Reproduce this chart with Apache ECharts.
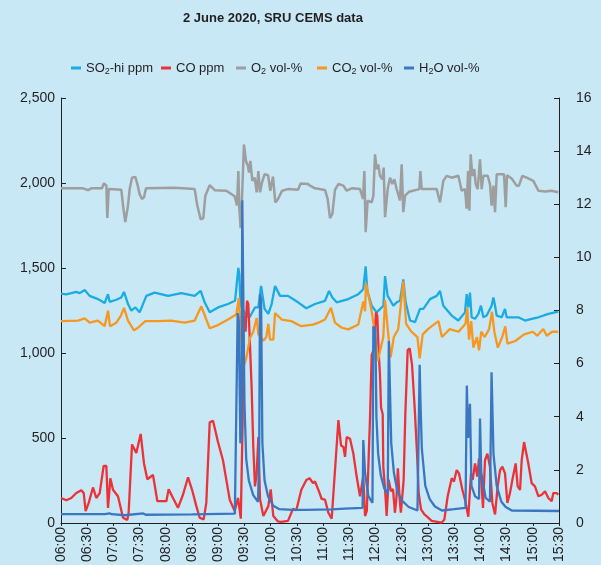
<!DOCTYPE html>
<html>
<head>
<meta charset="utf-8">
<script src="https://cdn.jsdelivr.net/npm/echarts@6/dist/echarts.min.js"></script>
<style>
html,body{margin:0;padding:0;background:#c8e8f6;}
#c{width:601px;height:565px;}
</style>
</head>
<body>
<div id="c"></div>
<script>
// x values are minutes after 06:00
const timeLabels = ['06:00','06:30','07:00','07:30','08:00','08:30','09:00','09:30','10:00','10:30','11:00','11:30','12:00','12:30','13:00','13:30','14:00','14:30','15:00','15:30'];

const so2 = [[0,1349],[6,1345],[11.8,1352],[17.5,1359],[21.4,1352],[27.1,1371],[32.8,1336],[42.3,1317],[50,1294],[53.8,1346],[55.7,1301],[63.3,1313],[69,1326],[72.1,1359],[76.7,1288],[80.5,1249],[85.1,1268],[90,1239],[97.7,1336],[107.2,1355],[122.5,1336],[137.7,1352],[153,1336],[159.9,1365],[164.4,1298],[170.2,1239],[179.7,1268],[191.1,1288],[199.2,1307],[203,1500],[204.2,1456],[205.5,1281],[210.8,1230],[215.9,1210],[222,1268],[225.9,1268],[229,1394],[233,1260],[237.3,1230],[241.1,1288],[245,1394],[250.7,1336],[259.8,1336],[271.3,1298],[280.8,1263],[290.7,1288],[302.2,1307],[306.8,1365],[310.6,1326],[315.5,1298],[328.9,1317],[340.3,1346],[346,1375],[348.7,1510],[350.6,1365],[355.6,1278],[361.3,1239],[369,1278],[370.9,1452],[373.9,1336],[380.4,1278],[384.2,1298],[388,1307],[391.8,1433],[394.5,1298],[399.5,1191],[405.2,1181],[410.9,1259],[414.7,1259],[422.4,1317],[430,1336],[433.8,1365],[437.6,1278],[447.2,1220],[454.8,1191],[462.4,1239],[464.3,1346],[466.2,1268],[468.1,1355],[470,1210],[473.9,1201],[477.7,1230],[480.7,1278],[483.4,1210],[487.2,1220],[492.9,1278],[494.9,1326],[496.8,1278],[498.7,1220],[504.4,1210],[508.2,1259],[510.1,1210],[515.8,1210],[523.5,1210],[531.1,1191],[538.7,1201],[546.4,1210],[557.8,1230],[569.2,1243]];

const co = [[0,147],[6.1,134],[11.8,147],[17.5,176],[23.3,192],[26,176],[28.2,70],[31.7,118],[36.6,209],[40.4,147],[44.3,176],[48.8,335],[51.9,335],[53.8,89],[56.5,263],[59.5,195],[65.2,157],[71,31],[75.9,18],[77.4,60],[81.3,462],[86.2,412],[91.2,524],[95,350],[98.8,257],[105.3,282],[110.3,128],[120.6,128],[123.2,199],[128.2,147],[133.9,89],[139.6,166],[145.4,269],[150,195],[154.9,99],[158.7,31],[163.3,21],[166.3,118],[170.2,592],[174,601],[179.7,476],[185.4,369],[193.1,137],[198.8,70],[202.6,147],[205.8,25],[207.9,603],[208.7,1143],[209.9,1220],[211.2,1125],[212.9,1307],[214.4,1288],[216.3,1046],[218.2,795],[220.1,447],[222,215],[224,293],[225.9,505],[227.8,139],[231.6,41],[237.3,99],[240,197],[243,41],[248,10],[252.2,6],[259.8,12],[265.5,83],[269.3,75],[275.1,195],[280.8,253],[284.6,263],[288.4,234],[290.7,244],[294.6,195],[298.4,141],[302.2,137],[306,60],[309.8,25],[311.7,31],[314.4,369],[317.5,605],[320.5,456],[323.2,447],[325.1,389],[327,505],[330.8,495],[334.6,408],[338.4,273],[342.2,157],[346,273],[348,41],[350,70],[351.8,331],[353.7,620],[355.6,988],[358.3,1027],[360.5,1239],[362,1220],[363.6,1007],[365.1,872],[366.3,679],[368.2,640],[368.9,331],[371.2,176],[372.7,41],[375,255],[377.7,186],[380,200],[382.2,60],[384,150],[385.6,321],[387.5,150],[389,60],[392.2,253],[394.1,640],[396.8,1017],[399.1,1027],[401.8,930],[404.8,679],[407.5,408],[409.4,176],[412.1,80],[415.9,50],[419,37],[424.3,12],[435.7,2],[438.8,21],[442.6,157],[447.2,263],[449.8,244],[452.9,311],[455.5,292],[459.4,195],[462.4,137],[466.2,37],[469.3,292],[471.2,253],[473.9,350],[476.5,273],[478.4,379],[480.7,273],[483,89],[485.3,369],[488,408],[491,331],[493.7,118],[496.8,50],[499.8,215],[502.5,311],[505.2,331],[508.2,292],[510.9,118],[513.9,176],[516.6,253],[520.4,350],[522.7,215],[525.4,195],[527.3,369],[530,476],[532.2,466],[534.9,350],[538.7,234],[542.5,215],[546.4,157],[550.2,166],[554,186],[557.8,147],[561.6,128],[563.5,176],[567.3,176],[569.2,166]];

const o2 = [[0,12.6],[25.2,12.6],[30.9,12.53],[34.7,12.6],[46.9,12.6],[49.2,12.79],[51.9,12.7],[53,11.48],[54.6,12.57],[69,12.55],[71.7,11.76],[73.6,11.33],[76.7,11.95],[78.6,12.57],[81.3,13.0],[85.1,13.03],[87.4,12.76],[90,12.38],[92.7,12.2],[95,12.26],[97.3,12.6],[130.1,12.62],[153,12.57],[156,11.95],[159.9,11.43],[162.9,11.48],[165.2,12.32],[170.2,12.72],[175.9,12.53],[189.2,12.51],[198.8,12.3],[201.4,11.95],[203,13.25],[204.1,11.83],[205.6,11.1],[207.2,12.26],[209.4,14.25],[211.7,13.63],[214,13.44],[215.2,13.19],[216.7,13.63],[219,12.88],[221.7,13.0],[224,12.45],[225.9,13.25],[227.8,12.45],[230.1,12.82],[233.1,13.13],[237,13.09],[239.6,12.51],[242.6,13.04],[245.3,12.07],[248.4,12.2],[253,12.51],[259.8,12.57],[271.3,12.55],[274.3,12.78],[282.7,12.76],[285,12.7],[290.7,12.6],[302.2,12.54],[305.2,12.2],[307.9,11.48],[310.6,11.64],[313.6,12.54],[317.5,12.76],[323.2,12.7],[327,12.51],[332.7,12.6],[342.2,12.57],[345.7,12.2],[347.2,13.25],[348.7,10.95],[351,12.14],[355.6,12.07],[357.5,12.32],[359.4,13.88],[361.3,13.32],[363.2,13.5],[365.1,13.07],[367.8,12.94],[369.3,13.38],[370.9,11.51],[373.9,12.57],[376.6,13.0],[379.2,12.76],[381.5,12.94],[384.2,12.57],[388,12.14],[389.9,13.5],[391.8,11.7],[393.8,12.32],[398.3,12.47],[410.2,12.57],[411.3,13.25],[412.8,12.57],[430,12.57],[433.8,12.07],[437.6,12.88],[441.4,13.07],[447.2,13.0],[454.8,13.07],[458.6,12.51],[462.4,12.57],[464.3,11.83],[465.9,13.25],[467.4,11.76],[468.9,13.88],[470.8,13.07],[473.1,13.32],[474.6,12.76],[476.9,12.57],[479.6,13.69],[481.5,12.57],[483.4,13.07],[488.4,13.07],[491,12.76],[492.9,11.95],[494.9,12.7],[496.8,11.7],[498.7,13.13],[507.1,13.13],[509,11.89],[510.5,13.09],[515.8,12.97],[521.5,12.7],[524.2,12.7],[528,13.07],[533,13.0],[540.6,12.88],[546.4,12.51],[554,12.48],[561.6,12.51],[569.2,12.45]];

const co2 = [[0,7.6],[19.5,7.62],[27.1,7.7],[32.8,7.54],[42.3,7.62],[50,7.41],[53.8,7.99],[56.1,7.41],[63.3,7.54],[68.3,7.79],[72.1,8.1],[76.7,7.62],[80.5,7.41],[83.5,7.25],[88.1,7.35],[96.5,7.6],[111,7.6],[126.3,7.62],[141.5,7.54],[153,7.62],[160.6,8.16],[166.3,7.66],[170.2,7.33],[179.7,7.45],[191.1,7.66],[200.7,7.85],[203.5,8.47],[205,7.6],[208.7,5.86],[212,6.2],[216.3,6.97],[220,7.2],[224,7.72],[225.9,7.1],[231.6,6.86],[235,7.0],[237.3,7.5],[239.2,6.9],[243,6.9],[245,7.9],[252.6,7.66],[263.6,7.6],[275,7.41],[288.4,7.47],[294.6,7.54],[302.2,7.66],[309,8.1],[313.6,7.54],[321.3,7.35],[328.9,7.29],[340.3,7.47],[346,8.34],[348,7.97],[349.1,9.03],[351.8,8.59],[355.6,7.97],[359.4,7.1],[362.5,6.1],[368.9,7.0],[370.9,8.4],[374,7.3],[377.2,6.23],[381,7.0],[386,7.3],[391.8,9.1],[395,7.5],[401,7.2],[408,7.0],[410.5,6.2],[414,7.1],[420,7.3],[432,7.6],[436,7.0],[445,7.3],[455,7.2],[463,7.5],[465,8.1],[467,6.9],[469.5,7.6],[472,6.6],[476,7.0],[478.5,6.5],[481,7.2],[485,7.0],[490,7.3],[493.3,7.95],[496,7.2],[500,6.6],[505,7.0],[508.5,7.4],[511,6.75],[520,6.85],[530,7.1],[540,7.2],[545,7.05],[552,7.3],[556,7.05],[562,7.2],[569,7.2]];

const h2o = [[0,0.33],[50,0.33],[55.7,0.36],[58,0.33],[73,0.29],[94,0.36],[97,0.31],[150,0.32],[199,0.35],[201.2,0.4],[202.2,7.9],[203.5,7.6],[205.3,3.0],[206.5,3.2],[207.5,12.15],[208.8,12.1],[210,4.5],[212,2.4],[215,1.6],[220,1.05],[225.5,0.8],[226.8,2.5],[227.8,8.6],[229,8.4],[230.5,3.0],[233,1.6],[237,1.0],[243,0.65],[250,0.52],[265,0.49],[280,0.49],[310,0.51],[325,0.54],[345.2,0.57],[346,3.12],[348,1.88],[351.8,1.01],[356.5,0.76],[357.5,7.4],[359.8,7.3],[361,4.0],[363,2.6],[366,1.8],[370,1.3],[374,1.1],[375.2,6.85],[376.8,6.8],[378,3.0],[381,1.9],[385,1.2],[390,0.85],[398,0.6],[408,0.47],[409.7,0.5],[410.5,5.96],[411.5,4.5],[413,2.8],[417,1.4],[422,0.9],[428,0.62],[436,0.47],[450,0.52],[463,0.57],[464.5,5.17],[466,3.2],[468.1,4.49],[469.8,1.4],[474,1.0],[478.5,0.9],[479.6,3.93],[481,1.9],[486,0.95],[491,0.8],[492.8,5.67],[495,2.6],[498.7,1.4],[504,0.8],[509,0.6],[516,0.47],[570,0.45]];

const seriesNames = ['SO2-hi ppm','CO ppm','O2 vol-%','CO2 vol-%','H2O vol-%'];
const legendRich = {
  'SO2-hi ppm':'{n|SO}{s|2}{n|-hi ppm}',
  'CO ppm':'{n|CO ppm}{s| }',
  'O2 vol-%':'{n|O}{s|2}{n| vol-%}',
  'CO2 vol-%':'{n|CO}{s|2}{n| vol-%}',
  'H2O vol-%':'{n|H}{s|2}{n|O vol-%}'
};
const legendLeft = [71,161,236,317,404];
const colors = ['#1aabe3','#ec3237','#9e9e9e','#f7971f','#3b77c0'];

const chart = echarts.init(document.getElementById('c'), null, {renderer:'canvas'});
const axisColor = '#231f20';
const font = 'Liberation Sans, Arial, sans-serif';

function mkSeries(name, data, yIdx, color, width){
  return {name, type:'line', data, yAxisIndex:yIdx, showSymbol:false, symbol:'none',
    lineStyle:{color, width}, itemStyle:{color}, animation:false};
}

const legends = seriesNames.map((n, i) => ({
  data:[n], left:legendLeft[i], top:60, itemWidth:10, itemHeight:3, itemGap:0, icon:'rect',
  padding:0, formatter: k => legendRich[k],
  textStyle:{color:axisColor, rich:{
    n:{fontFamily:font, fontSize:13, color:axisColor, lineHeight:16},
    s:{fontFamily:font, fontSize:9, color:axisColor, padding:[7,0,0,0], lineHeight:16}
  }}
}));

chart.setOption({
  backgroundColor:'#c8e8f6',
  animation:false,
  color: colors,
  title:{text:'2 June 2020, SRU CEMS data', left:183, top:12, padding:0,
    textStyle:{fontFamily:font, fontWeight:'bold', fontSize:13, color:axisColor}},
  legend: legends,
  grid:{left:61, right:42, top:98, bottom:38, containLabel:false},
  xAxis:{type:'value', min:0, max:570, interval:30,
    axisLine:{show:true, lineStyle:{color:axisColor, width:1}},
    axisTick:{show:true, length:3, lineStyle:{color:axisColor}},
    splitLine:{show:false},
    axisLabel:{rotate:90, margin:4, fontFamily:font, fontSize:14, color:axisColor,
      formatter: v => timeLabels[Math.round(v/30)]}},
  yAxis:[
    {type:'value', min:0, max:2500, interval:500, position:'left',
      axisLine:{show:true, lineStyle:{color:axisColor, width:1}},
      axisTick:{show:true, inside:true, length:5, lineStyle:{color:axisColor}},
      splitLine:{show:false},
      axisLabel:{margin:6, fontFamily:font, fontSize:14, color:axisColor}},
    {type:'value', min:0, max:16, interval:2, position:'right',
      axisLine:{show:true, lineStyle:{color:axisColor, width:1}},
      axisTick:{show:true, inside:true, length:5, lineStyle:{color:axisColor}},
      splitLine:{show:false},
      axisLabel:{margin:17, fontFamily:font, fontSize:14, color:axisColor}}
  ],
  series:[
    mkSeries(seriesNames[0], so2, 0, colors[0], 2.3),
    mkSeries(seriesNames[1], co, 0, colors[1], 2.3),
    mkSeries(seriesNames[2], o2, 1, colors[2], 2.5),
    mkSeries(seriesNames[3], co2, 1, colors[3], 2.3),
    mkSeries(seriesNames[4], h2o, 1, colors[4], 2.3)
  ]
});
</script>
</body>
</html>
